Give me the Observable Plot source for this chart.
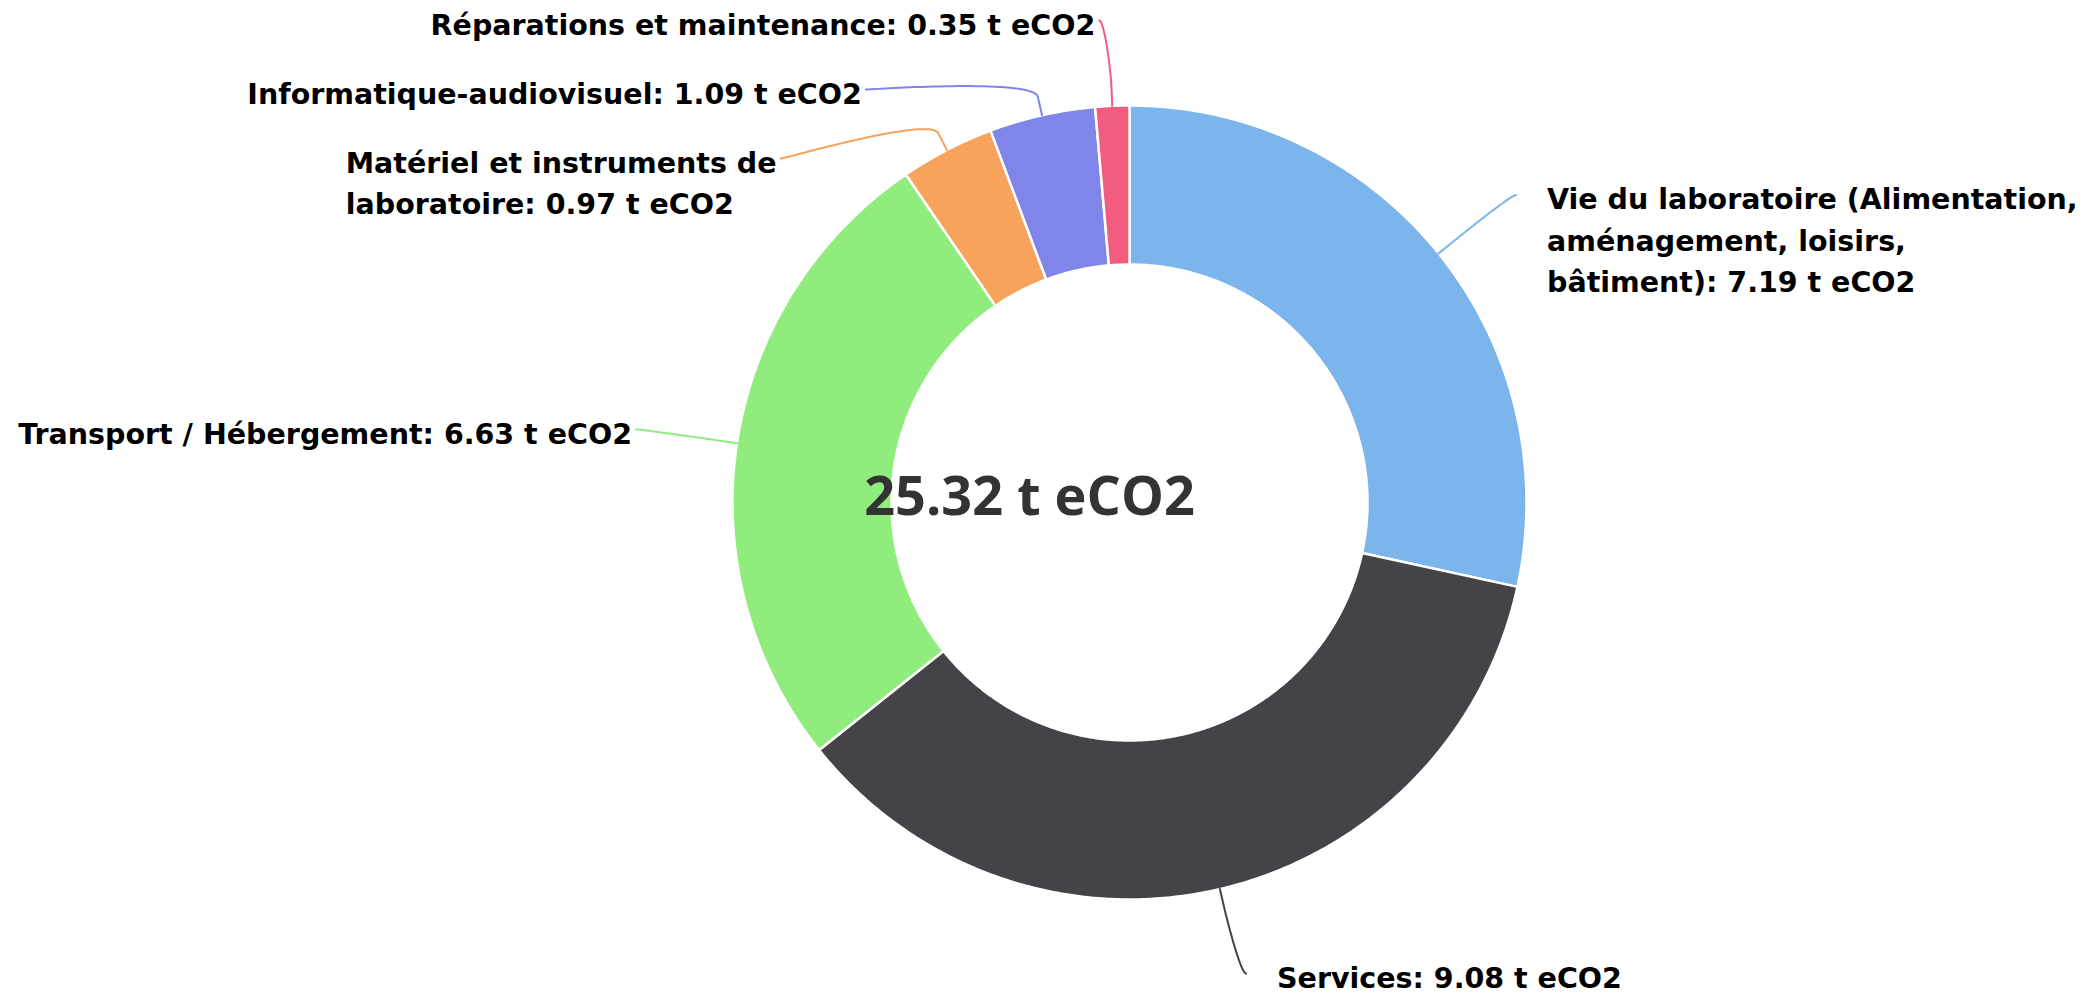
<!DOCTYPE html>
<html><head><meta charset="utf-8">
<script src="https://cdn.jsdelivr.net/npm/d3@7"></script>
<script src="https://cdn.jsdelivr.net/npm/@observablehq/plot@0.6"></script>
<style>html,body{margin:0;padding:0;background:#fff;overflow:hidden}svg{display:block}</style>
</head><body><div id="chart"></div>
<script>
// ---- data ----
const categories = [
  "Vie du laboratoire (Alimentation,\naménagement, loisirs,\nbâtiment)",
  "Services",
  "Transport / Hébergement",
  "Matériel et instruments de\nlaboratoire",
  "Informatique-audiovisuel",
  "Réparations et maintenance"
];
const values = [7.19, 9.08, 6.63, 0.97, 1.09, 0.35];
const colors = ["#7cb5ec", "#434348", "#90ed7d", "#f7a35c", "#8085e9", "#f15c80"];
const unit = "t eCO2";
const total = 25.32;

// ---- layout ----
const W = 2082, H = 995;
const CX = 1129, CY = 502;   // pie centre (px)
const R = 397, RI = 238;     // outer / inner radius (px)
const LABEL_R = 490;         // label circle radius
const FONT = "DejaVu Sans";
const FS = 28.5;

const sum = d3.sum(values);
let acc = 0;
const slices = categories.map((name, i) => {
  const a0 = acc / sum * 2 * Math.PI;
  acc += values[i];
  const a1 = acc / sum * 2 * Math.PI;
  return {name, value: values[i], a0, a1, mid: (a0 + a1) / 2};
});

// slice outlines in px relative to centre (y up)
const slicePts = slices.flatMap(s => {
  const n = Math.max(2, Math.ceil((s.a1 - s.a0) / (Math.PI / 360)));
  const pts = [];
  for (let k = 0; k <= n; k++) { const a = s.a0 + (s.a1 - s.a0) * k / n; pts.push({name: s.name, x: R * Math.sin(a), y: R * Math.cos(a)}); }
  for (let k = n; k >= 0; k--) { const a = s.a0 + (s.a1 - s.a0) * k / n; pts.push({name: s.name, x: RI * Math.sin(a), y: RI * Math.cos(a)}); }
  pts.push({...pts[0]});
  return pts;
});

// label layout (pixel coords, y down)
const labels = slices.map(s => {
  const left = Math.sin(s.mid) < 0;
  const nx = CX + LABEL_R * Math.sin(s.mid), ny = CY - LABEL_R * Math.cos(s.mid);
  return {...s, left, nx, ny, y: ny, pushed: false,
    text: `${s.name}: ${s.value.toFixed(2)} ${unit}`};
});
const TOP = 20, GAP = 69, BOTTOM = 973;
for (const side of [true, false]) {
  const arr = labels.filter(l => l.left === side).sort((a, b) => a.ny - b.ny);
  let prev = -Infinity;
  arr.forEach((l, k) => {
    let y = Math.max(l.ny, TOP);
    if (k > 0 && y < prev + GAP) { y = prev + GAP; l.pushed = true; }
    y = Math.min(y, BOTTOM);
    l.y = y; prev = y;
  });
}
const ctx = document.createElement("canvas").getContext("2d");
ctx.font = `bold ${FS}px "${FONT}"`;
labels.forEach(l => {
  l.x = l.pushed
    ? CX + (l.left ? -1 : 1) * Math.sqrt(Math.max(0, LABEL_R ** 2 - (l.y - CY) ** 2))
    : l.nx + (l.left ? -9 : 5);
  const w = d3.max(l.text.split("\n"), t => ctx.measureText(t).width);
  l.tx = l.left ? l.x - 4 - w : l.x + 31;
});

// connectors
const connPts = labels.flatMap(l => {
  const sn = Math.sin(l.mid), cs = Math.cos(l.mid);
  const T = [CX + R * sn, CY - R * cs];
  const B = [CX + (R + 19) * sn, CY - (R + 19) * cs];
  const P0 = [l.x, l.y], P1 = [l.x + (l.left ? 5 : -5), l.y], P2 = [2 * B[0] - T[0], 2 * B[1] - T[1]], P3 = B;
  const pts = [];
  for (let k = 0; k <= 40; k++) {
    const t = k / 40, u = 1 - t;
    const px = u*u*u*P0[0] + 3*u*u*t*P1[0] + 3*u*t*t*P2[0] + t*t*t*P3[0];
    const py = u*u*u*P0[1] + 3*u*u*t*P1[1] + 3*u*t*t*P2[1] + t*t*t*P3[1];
    pts.push({name: l.name, x: px - CX, y: CY - py});
  }
  pts.push({name: l.name, x: T[0] - CX, y: CY - T[1]});
  return pts;
});

const labelData = labels.map(l => ({name: l.name, text: l.text, x: l.tx - CX, y: CY - l.y}));

const chart = Plot.plot({
  width: W, height: H, margin: 0,
  x: {domain: [-CX, W - CX], axis: null},
  y: {domain: [-(H - CY), CY], axis: null},
  color: {domain: categories, range: colors},
  style: {fontFamily: FONT, background: "white"},
  marks: [
    Plot.line(slicePts, {x: "x", y: "y", z: "name", fill: "name", stroke: "white", strokeWidth: 2.5, strokeLinejoin: "round"}),
    Plot.line(connPts, {x: "x", y: "y", z: "name", stroke: "name", strokeWidth: 2}),
    Plot.text(labelData, {x: "x", y: "y", text: "text", textAnchor: "start", lineAnchor: "top", lineHeight: 1.45, dy: -15, fontSize: FS, fontWeight: "bold", fill: "black"}),
    Plot.text([`${total.toFixed(2)} ${unit}`], {frameAnchor: "middle", text: d => d, fontSize: 54, fontWeight: 700, fontFamily: "Open Sans", fill: "#333", dx: -12})
  ]
});
document.getElementById("chart").appendChild(chart);
</script>
</body></html>
